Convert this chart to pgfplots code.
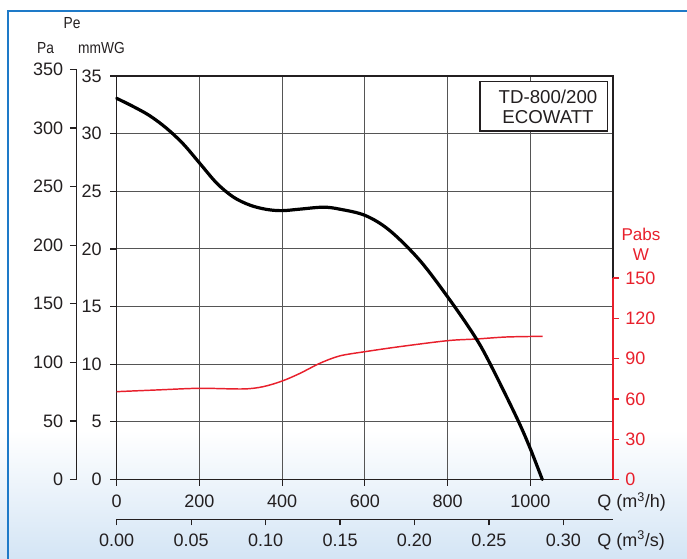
\documentclass[border=0pt]{standalone}
\usepackage{fontspec}
\setmainfont{Liberation Sans}
\newfontfamily\condfont[FakeStretch=0.86]{Liberation Sans}
\usepackage{pgfplots}
\pgfplotsset{compat=1.18}
\definecolor{pabs}{RGB}{232,32,44}
\definecolor{frameblue}{RGB}{30,122,200}
\definecolor{bgblue}{RGB}{212,229,245}
\definecolor{gridgray}{RGB}{85,85,85}
\definecolor{txt}{RGB}{35,31,32}
\newcommand{\tickfont}{\fontsize{13.5}{15}\selectfont}
\begin{document}
\begin{tikzpicture}[x=0.75pt,y=-0.75pt]
\path[use as bounding box] (0,0) rectangle (687,559);
\shade[top color=white, bottom color=bgblue] (0,430) rectangle (687,559);
\draw[frameblue, line width=1.6pt] (8.3,559) -- (8.3,11) -- (687,11);
\coordinate (OM) at (116.7,479.5);
\coordinate (OP) at (76.7,479.5);
\coordinate (OS) at (116.7,519.3);

\pgfplotsset{
  every axis/.append style={
    scale only axis,
    /pgf/number format/assume math mode=true,
    /pgf/number format/set thousands separator={},
    ticklabel style={font=\tickfont, text=txt},
  }
}

% main axis (mmWG)
\begin{axis}[
  at={(OM)}, anchor=south west,
  width=372.23pt, height=302.63pt,
  xmin=0, xmax=1200, ymin=0, ymax=35,
  xtick={0,200,...,1000}, ytick={0,5,...,35},
  grid=major, major grid style={gridgray, line width=0.85pt},
  axis line style={txt, line width=1pt},
  tick pos=left, tick align=outside, major tick length=4.8pt,
  tick style={txt, line width=0.9pt},
  yticklabel style={xshift=-3pt},
  xticklabel style={yshift=-3.2pt},
]
\end{axis}

% Pa axis
\begin{axis}[
  at={(OP)}, anchor=south west,
  width=10pt, height=307.5pt,
  xmin=0, xmax=1, ymin=0, ymax=350,
  hide x axis, axis y line=left,
  tick align=outside, major tick length=5.2pt,
  axis line style={-, txt, line width=1pt},
  ytick={0,50,...,350},
  tick style={txt, line width=0.9pt},
  yticklabel style={xshift=-1.5pt},
]
\end{axis}

% Pabs axis (W) with red curve
\begin{axis}[
  at={(OM)}, anchor=south west,
  width=372.23pt, height=151.1pt,
  xmin=0, xmax=1200, ymin=0, ymax=150,
  hide x axis, axis y line=right,
  tick align=outside, major tick length=4.5pt,
  axis line style={-, pabs, line width=1.1pt},
  ytick={0,30,...,150},
  tick style={pabs, line width=0.9pt},
  yticklabel style={text=pabs, xshift=1.2pt},
  clip=false,
]
\addplot[pabs, line width=1.1pt, smooth, tension=0.5] coordinates {
 (0,65.4) (100,66.7) (200,67.9) (306,67.4) (354,69.1) (400,73.3) (443,79)
 (491,86.5) (539,92) (601,95.2) (684,98.9) (801,103.4) (870,104.6)
 (942,106.1) (1030,106.6)
};
\end{axis}

% black curve overlay (mmWG)
\begin{axis}[
  at={(OM)}, anchor=south west,
  width=372.23pt, height=302.63pt,
  xmin=0, xmax=1200, ymin=0, ymax=35,
  hide axis, clip=false,
]
\addplot[black, line width=2.4pt, smooth, tension=0.55, line cap=round] coordinates {
 (0,33.06) (40,32.35) (80,31.55) (121,30.45) (161,29.1) (201,27.42) (242,25.7)
 (282,24.5) (322,23.8) (362,23.43) (400,23.32) (443,23.45) (499,23.62)
 (539,23.45) (601,22.9) (660,21.6) (733,19.0) (805,15.6) (866,12.4)
 (902,10.1) (966,5.45) (998,2.85) (1029,0)
};
\end{axis}

% Q (m3/s) axis
\begin{axis}[
  at={(OS)}, anchor=south west,
  width=372.23pt, height=20pt,
  xmin=0, xmax=0.333333, ymin=0, ymax=1,
  hide y axis, axis x line=bottom,
  axis line style={-, txt, line width=1pt},
  xtick={0,0.05,0.1,0.15,0.2,0.25,0.3},
  xtick align=outside, major tick length=4.5pt,
  tick style={txt, line width=0.9pt},
  xticklabel style={/pgf/number format/.cd, fixed, fixed zerofill, precision=2, /tikz/.cd, yshift=-3pt},
]
\end{axis}

% texts
\node[font=\condfont\fontsize{12}{14}\selectfont, text=txt] at (72,23) {Pe};
\node[font=\condfont\fontsize{12}{14}\selectfont, text=txt] at (45.5,48) {Pa};
\node[font=\condfont\fontsize{12}{14}\selectfont, text=txt] at (101.5,48) {mmWG};
\node[font=\fontsize{12.8}{14}\selectfont, text=pabs, anchor=base] at (641,240.7) {Pabs};
\node[font=\fontsize{12.8}{14}\selectfont, text=pabs, anchor=base] at (641,260.7) {W};
\node[font=\tickfont, text=txt, anchor=base west, inner sep=0pt] at (597,508) {Q (m\textsuperscript{3}/h)};
\node[font=\tickfont, text=txt, anchor=base west, inner sep=0pt] at (597,546.7) {Q (m\textsuperscript{3}/s)};
\draw[txt, line width=1pt, fill=white] (480,81.7) rectangle (607.7,131);
\node[font=\fontsize{14}{16}\selectfont, text=txt, anchor=base] at (548,103.3) {TD-800/200};
\node[font=\fontsize{14}{16}\selectfont, text=txt, anchor=base] at (548,124) {ECOWATT};
\end{tikzpicture}
\end{document}
